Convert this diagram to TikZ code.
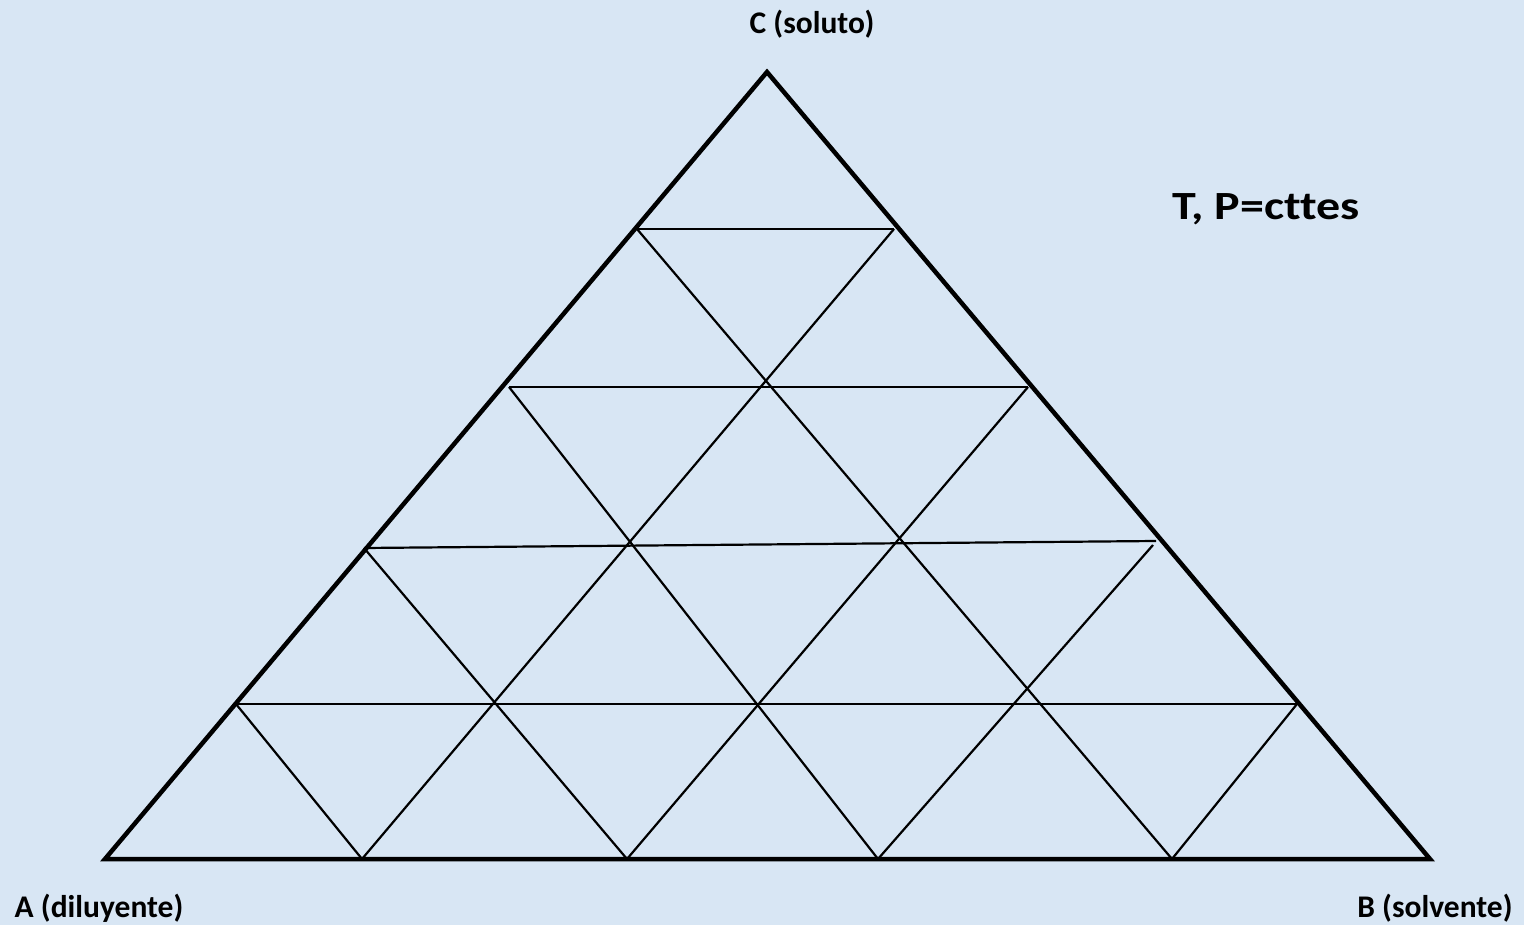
\documentclass[tikz,border=0pt]{standalone}
\usepackage{fontspec}
\setmainfont{Carlito}
\definecolor{bgblue}{HTML}{D8E6F4}
\begin{document}
\begin{tikzpicture}[x=1pt,y=-1pt,
  frame/.style={line width=4.5pt, line join=miter},
  grid/.style={line width=2.2pt},
  lbl/.style={font=\bfseries\fontsize{31.5}{35}\selectfont, inner sep=0pt},
  big/.style={font=\bfseries\fontsize{40}{44}\selectfont, inner sep=0pt}]
\fill[bgblue] (0,0) rectangle (1524,925);
\useasboundingbox (0,0) rectangle (1524,925);
% vertices
\coordinate (A) at (105,859);
\coordinate (B) at (1430,859);
\coordinate (C) at (767,72);
% horizontal line ends
\coordinate (h1l) at (637,229);  \coordinate (h1r) at (894,229);
\coordinate (h2l) at (509,387);  \coordinate (h2r) at (1028,387);
\coordinate (h3l) at (364,548);  \coordinate (h3r) at (1156,541);
\coordinate (h4l) at (236,704);  \coordinate (h4r) at (1297,704);
% bottom points
\coordinate (b1) at (362,859);
\coordinate (b2) at (627,859);
\coordinate (b3) at (878,859);
\coordinate (b4) at (1172,859);
\coordinate (r3) at (1153,545);
% grid
\draw[grid] (h1l) -- (h1r);
\draw[grid] (h2l) -- (h2r);
\draw[grid] (h3l) -- (h3r);
\draw[grid] (h4l) -- (h4r);
\draw[grid] (b1) -- (h1r);
\draw[grid] (b2) -- (h2r);
\draw[grid] (b3) -- (r3);
\draw[grid] (b4) -- (h4r);
\draw[grid] (b1) -- (h4l);
\draw[grid] (b2) -- (h3l);
\draw[grid] (b3) -- (h2l);
\draw[grid] (b4) -- (h1l);
% frame
\draw[frame] (A) -- (B) -- (C) -- cycle;
% labels
\node[lbl] (lc) at (812,24) {C (soluto)};
\node[lbl] (la) at (99,908) {A (diluyente)};
\node[lbl] (lb) at (1435,908) {B (solvente)};
\node[big] (tp) at (1266,209) {\scalebox{1.2}[1]{\addfontfeatures{Ligatures=NoCommon}T, P=cttes}};
\end{tikzpicture}
\end{document}
